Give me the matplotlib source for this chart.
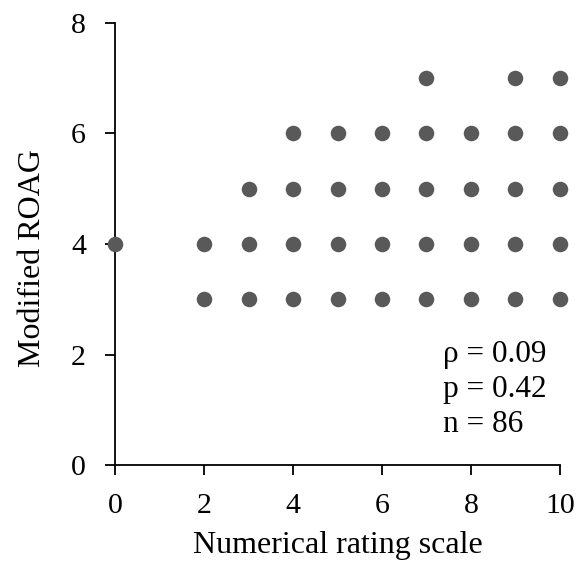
import matplotlib
matplotlib.use('Agg')
import matplotlib.pyplot as plt

# rating pairs (overlapping points drawn once)
nrs = [0, 2, 2, 3, 3, 3, 4, 4, 4, 4, 5, 5, 5, 5, 6, 6, 6, 6,
       7, 7, 7, 7, 7, 8, 8, 8, 8, 9, 9, 9, 9, 9, 10, 10, 10, 10, 10]
roag = [4, 3, 4, 3, 4, 5, 3, 4, 5, 6, 3, 4, 5, 6, 3, 4, 5, 6,
        3, 4, 5, 6, 7, 3, 4, 5, 6, 3, 4, 5, 6, 7, 3, 4, 5, 6, 7]
stats = ['\u03c1 = 0.09', 'p = 0.42', 'n = 86']
stat_y = [1.86, 1.23, 0.6]

plt.rcParams['font.family'] = ['Liberation Serif', 'DejaVu Serif']

fig = plt.figure(figsize=(5.85, 5.7), dpi=100)
ax = fig.add_axes([0.197, 0.184, 0.76, 0.776])

ax.scatter(nrs, roag, s=125, color='#595959', zorder=3, clip_on=False,
           linewidths=0)

ax.set_xlim(0, 10)
ax.set_ylim(0, 8)
ax.set_xticks(range(0, 11, 2))
ax.set_yticks(range(0, 9, 2))
for s in ['top', 'right']:
    ax.spines[s].set_visible(False)
for s in ['left', 'bottom']:
    ax.spines[s].set_linewidth(1.3)
ax.tick_params(direction='out', length=7, width=1.3, labelsize=21.5)
ax.tick_params(axis='y', pad=14)
ax.tick_params(axis='x', pad=13)

ax.set_xlabel('Numerical rating scale', fontsize=23, labelpad=9)
ax.set_ylabel('Modified ROAG', fontsize=23, labelpad=17, y=0.468)

for t, yy in zip(stats, stat_y):
    ax.text(7.37, yy, t, fontsize=22.5, va='baseline', ha='left')

fig.savefig('out.png', dpi=100)
